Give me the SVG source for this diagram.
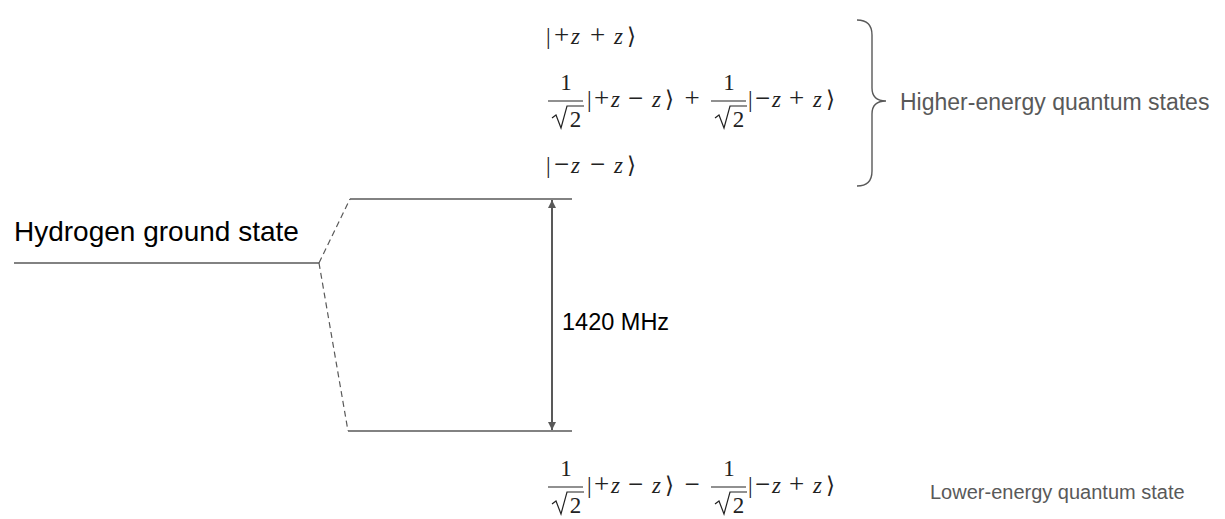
<svg xmlns="http://www.w3.org/2000/svg" width="1225" height="519" viewBox="0 0 1225 519">
<style>
.lvl{stroke:#595959;stroke-width:1.4;fill:none}
.dash{stroke:#595959;stroke-width:1.2;fill:none;stroke-dasharray:6,4}
.lbl{font-family:"Liberation Sans",Arial,sans-serif;fill:#000}
.glbl{font-family:"Liberation Sans",Arial,sans-serif;fill:#595959}
.m{font-family:"Liberation Serif","DejaVu Serif",serif;fill:#222;font-size:23px}
.mi{font-style:italic}
.op{font-size:27px}
.bar{stroke:#222;stroke-width:1.2;fill:none}
</style>
<defs>
<marker id="ah" viewBox="0 0 10 10" refX="10" refY="5" markerWidth="10" markerHeight="8" markerUnits="userSpaceOnUse" orient="auto-start-reverse">
<path d="M0,0 L10,5 L0,10 z" fill="#595959"/>
</marker>
<g id="frac">
<path class="bar" d="M0,0 L35,0"/>
<text class="m" x="18" y="-11" text-anchor="middle">1</text>
<path class="bar" d="M4,17 L8,14 L13,27 L19,5 L36,5"/>
<text class="m" x="27.5" y="26" text-anchor="middle">2</text>
</g>
</defs>
<g id="connectors">
<path class="lvl" d="M14,263 L319,263"/>
<path class="dash" d="M319,263 L350,199"/>
<path class="dash" d="M319,263 L348,431"/>
<path class="lvl" d="M350,199 L572,199"/>
<path class="lvl" d="M348,431 L572,431"/>
<path d="M552,200 L552,430" stroke="#595959" stroke-width="2" fill="none" marker-start="url(#ah)" marker-end="url(#ah)"/>
<path class="lvl" d="M857,20 Q872,20 872,35 L872,88 Q872,101 886,101 Q872,101 872,114 L872,171 Q872,186 857,186"/>
</g>
<g id="ground">
<text class="lbl" x="14" y="241" font-size="28">Hydrogen ground state</text>
</g>
<g id="splitting">
<text class="lbl" x="562" y="330" font-size="23.5">1420 MHz</text>
</g>
<g id="higher-states">
<text class="m" y="44"><tspan x="546">|</tspan><tspan x="554" class="op">+</tspan><tspan x="571" class="mi">z</tspan><tspan x="590" class="op">+</tspan><tspan x="614" class="mi">z</tspan><tspan x="627">⟩</tspan></text>
<use href="#frac" x="548" y="101"/>
<text class="m" y="107"><tspan x="587">|</tspan><tspan x="594" class="op">+</tspan><tspan x="611" class="mi">z</tspan><tspan x="628" class="op">−</tspan><tspan x="652" class="mi">z</tspan><tspan x="665">⟩</tspan></text>
<text class="m op" x="692" y="107" text-anchor="middle">+</text>
<use href="#frac" x="711" y="101"/>
<text class="m" y="107"><tspan x="748">|</tspan><tspan x="755" class="op">−</tspan><tspan x="772" class="mi">z</tspan><tspan x="789" class="op">+</tspan><tspan x="813" class="mi">z</tspan><tspan x="826">⟩</tspan></text>
<text class="m" y="173"><tspan x="546">|</tspan><tspan x="554" class="op">−</tspan><tspan x="571" class="mi">z</tspan><tspan x="590" class="op">−</tspan><tspan x="614" class="mi">z</tspan><tspan x="627">⟩</tspan></text>
<text class="glbl" x="900" y="110" font-size="23">Higher-energy quantum states</text>
</g>
<g id="lower-state">
<use href="#frac" x="548" y="487"/>
<text class="m" y="493"><tspan x="587">|</tspan><tspan x="594" class="op">+</tspan><tspan x="611" class="mi">z</tspan><tspan x="628" class="op">−</tspan><tspan x="652" class="mi">z</tspan><tspan x="665">⟩</tspan></text>
<text class="m op" x="692" y="493" text-anchor="middle">−</text>
<use href="#frac" x="711" y="487"/>
<text class="m" y="493"><tspan x="748">|</tspan><tspan x="755" class="op">−</tspan><tspan x="772" class="mi">z</tspan><tspan x="789" class="op">+</tspan><tspan x="813" class="mi">z</tspan><tspan x="826">⟩</tspan></text>
<text class="glbl" x="930" y="499" font-size="20">Lower-energy quantum state</text>
</g>
</svg>
